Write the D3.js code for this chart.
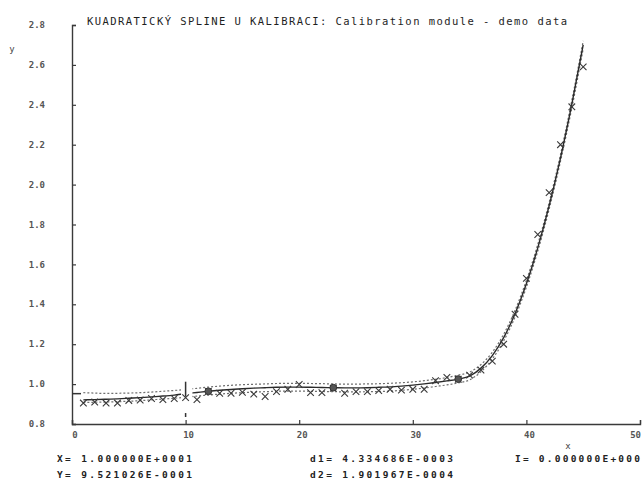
<!DOCTYPE html>
<html>
<head>
<meta charset="utf-8">
<script src="https://cdn.jsdelivr.net/npm/d3@7"></script>
<style>
  html, body { margin: 0; padding: 0; background: #fff; }
  svg { display: block; }
</style>
</head>
<body>
<svg id="chart" width="642" height="479"></svg>
<script>
// ---- data ----
const titleText = "KUADRATICKÝ SPLINE U KALIBRACI: Calibration module - demo data";
const xTicks = [0, 10, 20, 30, 40, 50];
const yTicks = [0.8, 1.0, 1.2, 1.4, 1.6, 1.8, 2.0, 2.2, 2.4, 2.6, 2.8];

const xData = [1,2,3,4,5,6,7,8,9,10,11,12,13,14,15,16,17,18,19,20,21,22,23,24,25,26,27,28,29,30,31,32,33,34,35,36,37,38,39,40,41,42,43,44,45];
const yData = [0.905,0.910,0.905,0.905,0.918,0.920,0.928,0.922,0.928,0.932,0.922,0.963,0.954,0.954,0.959,0.950,0.938,0.962,0.974,0.998,0.957,0.957,0.979,0.954,0.962,0.962,0.967,0.974,0.970,0.974,0.974,1.017,1.034,1.024,1.045,1.070,1.115,1.200,1.350,1.530,1.750,1.960,2.200,2.390,2.590];

const fitY = [0.921,0.922,0.924,0.926,0.929,0.932,0.936,0.940,0.945,0.952,0.958,0.964,0.969,0.973,0.977,0.980,0.982,0.984,0.985,0.985,0.984,0.983,0.982,0.981,0.981,0.982,0.984,0.986,0.990,0.995,1.001,1.008,1.016,1.025,1.040,1.080,1.143,1.233,1.353,1.503,1.683,1.893,2.133,2.403,2.700];
const upperY = [0.957,0.955,0.953,0.954,0.955,0.957,0.960,0.964,0.968,0.973,0.979,0.985,0.990,0.994,0.997,0.999,1.001,1.003,1.004,1.004,1.003,1.002,1.001,1.000,1.000,1.001,1.002,1.004,1.007,1.011,1.017,1.024,1.033,1.045,1.060,1.098,1.160,1.250,1.370,1.520,1.700,1.910,2.150,2.422,2.720];
const lowerY = [0.908,0.909,0.910,0.912,0.914,0.917,0.921,0.925,0.929,0.934,0.940,0.945,0.950,0.954,0.957,0.960,0.962,0.964,0.965,0.965,0.964,0.963,0.962,0.961,0.961,0.962,0.963,0.965,0.969,0.974,0.980,0.988,0.996,1.006,1.021,1.062,1.126,1.216,1.336,1.486,1.666,1.876,2.116,2.384,2.680];

const knotX = [12, 23, 34];
const knotY = [0.964, 0.982, 1.025];

const cursorX = 10;
const cursorY = 0.9521026;
const infoLeft = ["X= 1.000000E+0001", "Y= 9.521026E-0001"];
const infoMid = ["d1= 4.334686E-0003", "d2= 1.901967E-0004"];
const infoRight = ["I= 0.000000E+000"];

// ---- drawing ----
const svg = d3.select("#chart");
svg.append("rect").attr("width", 642).attr("height", 479).attr("fill", "#fff");

const x = d3.scaleLinear().domain([0, 50]).range([72, 640]);
const y = d3.scaleLinear().domain([0.8, 2.8]).range([424, 25]);

const axisColor = "#3a3a3a";
const mono = "'DejaVu Sans Mono', 'Liberation Mono', monospace";

// axes (inward ticks)
const yAxis = d3.axisRight(y).tickValues(yTicks).tickSize(4).tickFormat("");
const gy = svg.append("g").attr("transform", `translate(${x(0)},0)`).call(yAxis);
const xAxis = d3.axisTop(x).tickValues(xTicks).tickSize(4).tickFormat("");
const gx = svg.append("g").attr("transform", `translate(0,${y(0.8)})`).call(xAxis);
[gx, gy].forEach(g => {
  g.select(".domain").attr("stroke", axisColor).attr("stroke-width", 1.4);
  g.selectAll(".tick line").attr("stroke", axisColor).attr("stroke-width", 1.2);
});

// tick labels
svg.append("g").selectAll("text").data(yTicks).join("text")
  .attr("x", 45).attr("y", d => y(d)).attr("dy", "0.35em")
  .attr("text-anchor", "end")
  .attr("font-family", mono).attr("font-size", 9).attr("font-weight", "bold")
  .attr("fill", "#555")
  .text(d => d3.format(".1f")(d));

svg.append("g").selectAll("text").data(xTicks).join("text")
  .attr("x", d => Math.min(x(d) + 3, 641)).attr("y", 435).attr("dy", "0.35em")
  .attr("text-anchor", d => (x(d) + 9 > 641 ? "end" : "middle"))
  .attr("font-family", mono).attr("font-size", 9).attr("font-weight", "bold")
  .attr("fill", "#555")
  .text(d => d);

// axis names
svg.append("text").attr("x", 12).attr("y", 49).attr("dy", "0.35em")
  .attr("text-anchor", "middle").attr("font-family", mono).attr("font-size", 9)
  .attr("fill", "#444").text("y");
svg.append("text").attr("x", 568).attr("y", 446).attr("dy", "0.35em")
  .attr("text-anchor", "middle").attr("font-family", mono).attr("font-size", 9)
  .attr("fill", "#444").text("x");

// title
svg.append("text").attr("x", 87).attr("y", 25)
  .attr("font-family", mono).attr("font-size", 10.5).attr("fill", "#1e1e1e")
  .attr("textLength", 480).attr("lengthAdjust", "spacing")
  .text(titleText);

// clip: curve is erased around the cursor
const defs = svg.append("defs");
const clip = defs.append("clipPath").attr("id", "gapclip");
clip.append("rect").attr("x", x(0)).attr("y", 0).attr("width", x(cursorX - 0.4) - x(0)).attr("height", 479);
clip.append("rect").attr("x", x(cursorX + 0.6)).attr("y", 0).attr("width", x(50) - x(cursorX + 0.6)).attr("height", 479);

const line = (ys) => d3.line()
  .x((d, i) => x(xData[i])).y(d => y(d))
  .curve(d3.curveMonotoneX)(ys);

const curves = svg.append("g").attr("clip-path", "url(#gapclip)");
curves.append("path").attr("d", line(upperY)).attr("fill", "none")
  .attr("stroke", "#6f6f6f").attr("stroke-width", 1.2).attr("stroke-dasharray", "2,2");
curves.append("path").attr("d", line(lowerY)).attr("fill", "none")
  .attr("stroke", "#6f6f6f").attr("stroke-width", 1.2).attr("stroke-dasharray", "2,2");
curves.append("path").attr("d", line(fitY)).attr("fill", "none")
  .attr("stroke", "#2a2a2a").attr("stroke-width", 1.4);

// data markers (x)
const m = 3.3;
svg.append("g").selectAll("path").data(yData).join("path")
  .attr("d", (d, i) => {
    const cx = x(xData[i]), cy = y(d);
    return `M${cx - m},${cy - m}L${cx + m},${cy + m}M${cx - m},${cy + m}L${cx + m},${cy - m}`;
  })
  .attr("stroke", "#3a3a3a").attr("stroke-width", 1.1).attr("fill", "none");

// knots
svg.append("g").selectAll("circle").data(knotX).join("circle")
  .attr("cx", d => x(d)).attr("cy", (d, i) => y(knotY[i])).attr("r", 3.4)
  .attr("fill", "#555").attr("stroke", "#333").attr("stroke-width", 1);

// cursor
const cur = svg.append("g").attr("stroke", "#333").attr("stroke-width", 1.5);
cur.append("line").attr("x1", x(cursorX)).attr("x2", x(cursorX))
  .attr("y1", y(1.012)).attr("y2", y(0.937));
cur.append("line").attr("x1", x(cursorX)).attr("x2", x(cursorX))
  .attr("y1", y(0.855)).attr("y2", y(0.835));
cur.append("line").attr("x1", x(0)).attr("x2", x(0) + 9)
  .attr("y1", y(cursorY)).attr("y2", y(cursorY));

// info lines
const info = svg.append("g").attr("font-family", mono).attr("font-size", 9.5)
  .attr("font-weight", "bold").attr("fill", "#222");
infoLeft.forEach((t, i) => info.append("text").attr("x", 57).attr("y", 462 + i * 16)
  .attr("textLength", 135).attr("lengthAdjust", "spacing").text(t));
infoMid.forEach((t, i) => info.append("text").attr("x", 310).attr("y", 462 + i * 16)
  .attr("textLength", 143).attr("lengthAdjust", "spacing").text(t));
infoRight.forEach((t, i) => info.append("text").attr("x", 515).attr("y", 462 + i * 16)
  .attr("textLength", 125).attr("lengthAdjust", "spacing").text(t));
</script>
</body>
</html>
